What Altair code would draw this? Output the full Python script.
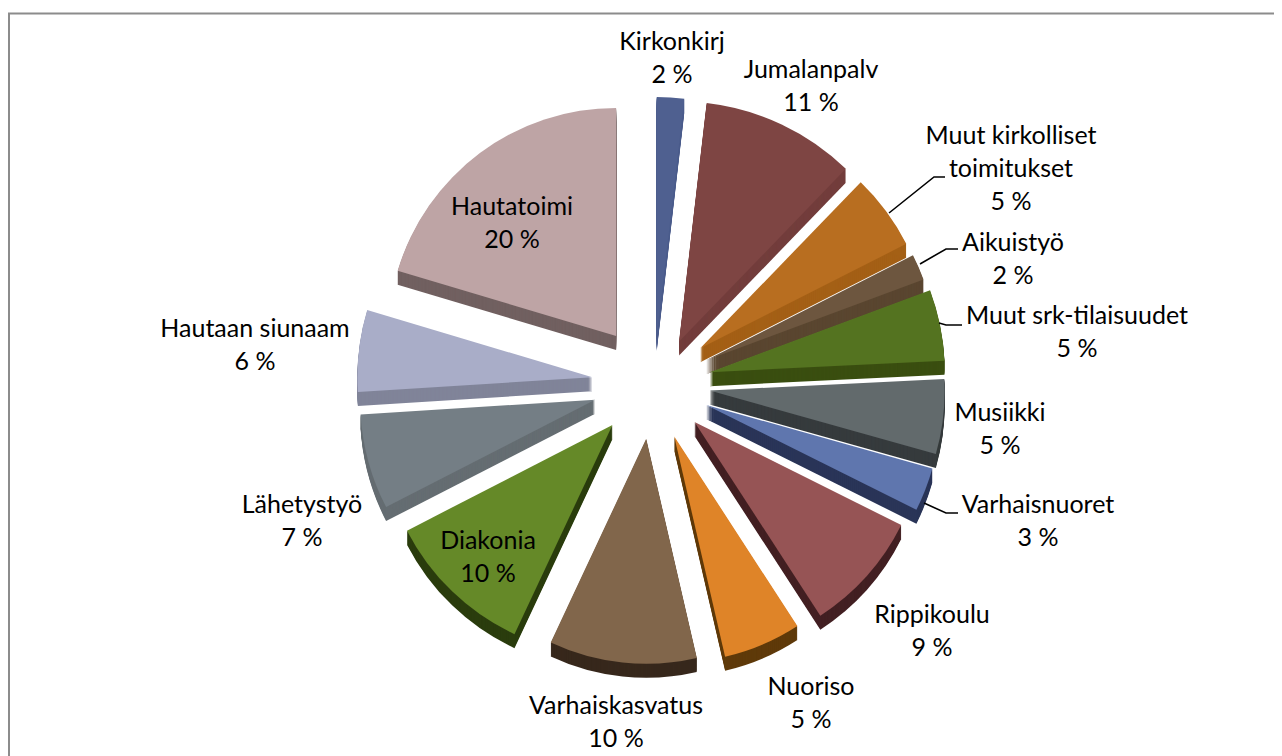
import math
import altair as alt
import pandas as pd

categories = ["Kirkonkirj", "Jumalanpalv", "Muut kirkolliset toimitukset", "Aikuistyö",
              "Muut srk-tilaisuudet", "Musiikki", "Varhaisnuoret", "Rippikoulu", "Nuoriso",
              "Varhaiskasvatus", "Diakonia", "Lähetystyö", "Hautaan siunaam", "Hautatoimi"]
values = [2, 11, 5, 2, 5, 5, 3, 9, 5, 10, 10, 7, 6, 20]
top_colors = ["#4F6090", "#7E4543", "#B86E20", "#6D563F", "#547320", "#626A6C", "#5F76AE",
              "#965455", "#DF8428", "#81664B", "#658928", "#747E85", "#A9ADC8", "#BEA4A5"]
side_colors = ["#4C5D8C", "#733D3C", "#A46016", "#5A4630", "#3A4E10", "#363B3D", "#2A3558",
               "#432023", "#5F3A0A", "#37281C", "#2B3D0E", "#656D72", "#808499", "#716060"]
label_lines = [["Kirkonkirj"], ["Jumalanpalv"], ["Muut kirkolliset", "toimitukset"], ["Aikuistyö"],
               ["Muut srk-tilaisuudet"], ["Musiikki"], ["Varhaisnuoret"], ["Rippikoulu"], ["Nuoriso"],
               ["Varhaiskasvatus"], ["Diakonia"], ["Lähetystyö"], ["Hautaan siunaam"], ["Hautatoimi"]]

# layout of the exploded pie and its annotations (not data)
# perspective of the tilted pie: the drawn angle (degrees) at each slice boundary
perspective_deg = [0, 6.6, 44, 63.1, 69.6, 87.2, 105.7, 116.5, 147, 167, 205.1, 242.8, 266.4, 286.6, 360]
explode = [47, 47, 60, 59, 59, 58, 58, 57, 57, 55, 57, 59, 60, 60]
nudge_x = [2, 7, 0, 0, 0, 0, 0, 0, 0, 0, 0, 0, 0, 0]
radius = [240, 240, 231, 232, 235, 235, 235, 231, 226, 225, 231, 235, 235, 228]
label_x = [672, 811, 1011, 1013, 1077, 1000, 1038, 932, 811, 616, 488, 302, 255, 512]
label_y = [50, 78, 144, 251, 324, 421, 513, 623, 695, 714, 549, 513, 337, 215]
leaders = [[(889, 213), (934, 177), (945, 177)],
           [(920, 264), (946, 249), (958, 249)],
           [(939, 323), (946, 325), (962, 325)],
           [(924, 503), (946, 513), (958, 513)]]

CX, CY, DEPTH = 652, 384, 14
FONT = "Lato"

rows, cum, bounds = [], 0, [0]
for i, (cat, v, top, side, e, n, r) in enumerate(zip(categories, values, top_colors, side_colors, explode, nudge_x, radius)):
    mid = math.radians((perspective_deg[i] + perspective_deg[i + 1]) / 2)
    rows.append(dict(cat=cat, start=cum, end=cum + v, top=top, side=side, r=r,
                     x=CX + n + e * math.sin(mid), y=CY - e * math.cos(mid)))
    cum += v
    bounds.append(cum)
rows.sort(key=lambda d: d["y"])
arcs = []
for d in rows:
    for k in range(DEPTH, 0, -1):
        arcs.append(dict(d, yy=d["y"] + k, color=d["side"]))
    arcs.append(dict(d, yy=d["y"], color=d["top"]))
arc_df = pd.DataFrame(arcs)

text_df = pd.DataFrame([
    dict(text=lines + [f"{v} %"], x=x, y=y)
    for lines, v, x, y in zip(label_lines, values, label_x, label_y)])
line_df = pd.DataFrame([dict(id=i, o=j, x=p[0], y=p[1])
                        for i, pts in enumerate(leaders) for j, p in enumerate(pts)])
frame_df = pd.DataFrame([dict(x=9, x2=1300, y=13.5, y2=790)])

W, H = 1266, 748
xs = alt.Scale(domain=[8, 8 + W], range=[0, W])
ys = alt.Scale(domain=[8, 8 + H], range=[0, H])
X = alt.X("x:Q", scale=xs, axis=None)
Y = alt.Y("y:Q", scale=ys, axis=None)

frame = alt.Chart(frame_df).mark_rect(fillOpacity=0, stroke="#8C8C8C", strokeWidth=2, clip=True).encode(
    x=X, x2="x2:Q", y=Y, y2="y2:Q")
pie = alt.Chart(arc_df).mark_arc().encode(
    x=X,
    y=alt.Y("yy:Q", scale=ys, axis=None),
    theta=alt.Theta("start:Q", stack=None,
                    scale=alt.Scale(domain=bounds, range=[math.radians(a) for a in perspective_deg])),
    theta2="end:Q",
    radius=alt.Radius("r:Q", scale=None),
    color=alt.Color("color:N", scale=None),
)
lines = alt.Chart(line_df).mark_line(color="black", strokeWidth=1.6).encode(
    x=X, y=Y, detail="id:N", order="o:Q")
labels = alt.Chart(text_df).mark_text(
    font=FONT, fontSize=25, lineHeight=33, align="center", baseline="alphabetic", color="black"
).encode(x=X, y=Y, text="text")

chart = (frame + pie + lines + labels).properties(
    width=W, height=H, padding=0, autosize=alt.AutoSizeParams(type="none")
).configure_view(stroke=None)
chart.save("out.html", embed_options={"renderer": "svg", "actions": False})
